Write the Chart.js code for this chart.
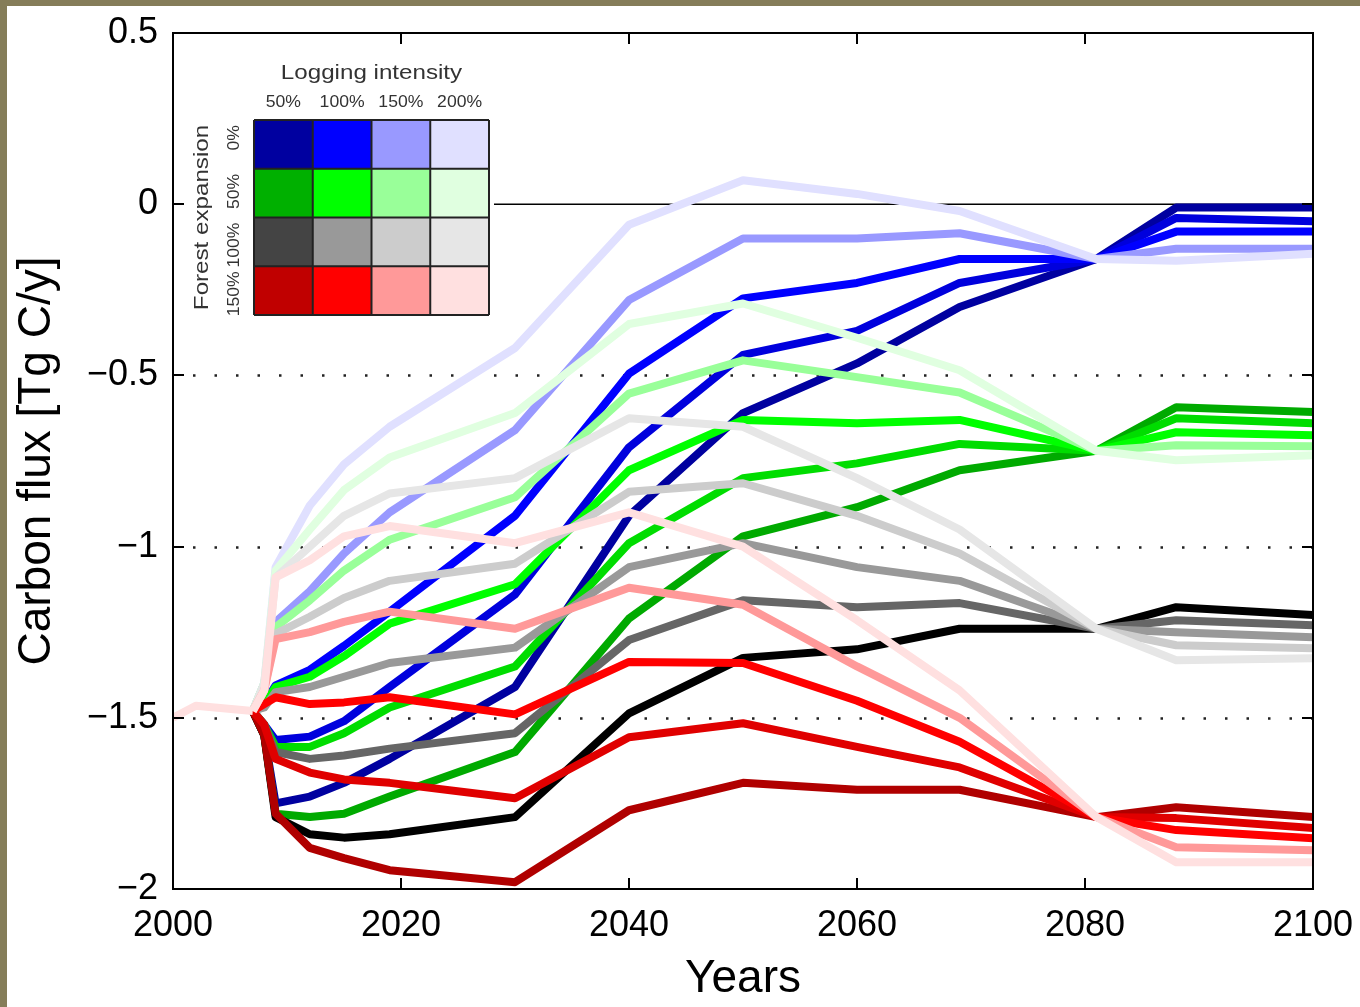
<!DOCTYPE html>
<html>
<head>
<meta charset="utf-8">
<script src="https://cdn.jsdelivr.net/npm/chart.js@4.4.1/dist/chart.umd.min.js"></script>
<style>
html, body { margin: 0; padding: 0; background: #857d59; }
#wrap { position: absolute; left: 7px; top: 6px; width: 1353px; height: 1001px; background: #fff; }
</style>
</head>
<body>
<div id="wrap"><canvas id="flux" width="1353" height="1001"></canvas></div>
<script>
// years shared by every scenario line (they all branch off at 2007)
const years = [2007, 2008, 2009, 2012, 2015, 2019, 2030, 2040, 2050, 2060, 2069, 2081, 2088, 2100];

// common history before the scenarios start
const histYears = [2000, 2002, 2007];
const histFlux = [-1.5, -1.465, -1.48];

// forest expansion 0% (blue), dark -> pale = low -> high logging
const blueDark   = [-1.48, -1.55, -1.75, -1.73, -1.69, -1.62, -1.41, -0.91, -0.61, -0.465, -0.30, -0.16, -0.01, -0.01];
const blueMid    = [-1.48, -1.52, -1.565, -1.555, -1.51, -1.41, -1.14, -0.71, -0.44, -0.37, -0.23, -0.16, -0.04, -0.05];
const blueBright = [-1.48, -1.46, -1.405, -1.36, -1.29, -1.19, -0.91, -0.495, -0.275, -0.23, -0.16, -0.16, -0.08, -0.08];
const blueLight  = [-1.48, -1.40, -1.22, -1.13, -1.02, -0.90, -0.66, -0.28, -0.10, -0.10, -0.085, -0.16, -0.13, -0.13];
const bluePale   = [-1.48, -1.40, -1.06, -0.88, -0.76, -0.65, -0.42, -0.06, 0.07, 0.03, -0.02, -0.16, -0.165, -0.145];

// forest expansion 50% (green)
const greenDark   = [-1.48, -1.55, -1.78, -1.79, -1.78, -1.73, -1.60, -1.21, -0.97, -0.885, -0.777, -0.72, -0.593, -0.607];
const greenMid    = [-1.48, -1.52, -1.585, -1.585, -1.545, -1.47, -1.35, -0.99, -0.80, -0.757, -0.70, -0.72, -0.625, -0.64];
const greenBright = [-1.48, -1.46, -1.41, -1.38, -1.32, -1.225, -1.11, -0.777, -0.63, -0.64, -0.63, -0.72, -0.666, -0.675];
const greenLight  = [-1.48, -1.40, -1.235, -1.157, -1.07, -0.98, -0.856, -0.553, -0.456, -0.505, -0.55, -0.72, -0.704, -0.707];
const greenPale   = [-1.48, -1.40, -1.07, -0.95, -0.835, -0.74, -0.61, -0.35, -0.29, -0.39, -0.485, -0.72, -0.748, -0.733];

// forest expansion 100% (grey)
const greyDark   = [-1.48, -1.55, -1.79, -1.84, -1.85, -1.84, -1.79, -1.487, -1.325, -1.30, -1.24, -1.24, -1.177, -1.20];
const greyMid    = [-1.48, -1.52, -1.60, -1.62, -1.61, -1.59, -1.545, -1.273, -1.157, -1.177, -1.165, -1.24, -1.215, -1.23];
const greyBright = [-1.48, -1.47, -1.425, -1.41, -1.38, -1.34, -1.295, -1.06, -0.99, -1.06, -1.10, -1.24, -1.25, -1.265];
const greyLight  = [-1.48, -1.42, -1.255, -1.205, -1.15, -1.10, -1.05, -0.84, -0.815, -0.91, -1.02, -1.24, -1.288, -1.297];
const greyPale   = [-1.48, -1.40, -1.09, -1.00, -0.91, -0.845, -0.80, -0.625, -0.65, -0.80, -0.95, -1.24, -1.332, -1.326];

// forest expansion 150% (red)
const redDark   = [-1.48, -1.55, -1.78, -1.88, -1.91, -1.945, -1.98, -1.77, -1.69, -1.71, -1.71, -1.79, -1.761, -1.79];
const redMid    = [-1.48, -1.52, -1.62, -1.66, -1.68, -1.69, -1.735, -1.557, -1.516, -1.585, -1.645, -1.79, -1.793, -1.822];
const redBright = [-1.48, -1.46, -1.44, -1.46, -1.455, -1.44, -1.49, -1.337, -1.34, -1.45, -1.57, -1.79, -1.828, -1.852];
const redLight  = [-1.48, -1.42, -1.27, -1.25, -1.22, -1.19, -1.24, -1.12, -1.17, -1.35, -1.50, -1.79, -1.878, -1.887];
const redPale   = [-1.48, -1.42, -1.09, -1.04, -0.97, -0.94, -0.99, -0.90, -1.00, -1.215, -1.42, -1.79, -1.922, -1.922];

const zeroX = [2000, 2100];
const zeroY = [0, 0];
const dottedAt = [-0.5, -1, -1.5];
const xTickMarks = [2020, 2040, 2060, 2080];
const yTickMarks = [0, -0.5, -1, -1.5];

// key matrix
const loggingLabels = ['50%', '100%', '150%', '200%'];
const expansionLabels = ['0%', '50%', '100%', '150%'];
const keyColors = [
  ['#0000a0', '#0000ff', '#9999ff', '#e0e0ff'],
  ['#00b000', '#00ff00', '#99ff99', '#e0ffe0'],
  ['#444444', '#999999', '#cccccc', '#e6e6e6'],
  ['#c00000', '#ff0000', '#ff9999', '#ffe0e0']
];

const FONT = '"Liberation Sans", Arial, Helvetica, sans-serif';

const series = [
  [blueDark, '#0000a0'], [blueMid, '#0000dd'], [blueBright, '#0000ff'], [blueLight, '#9999ff'], [bluePale, '#e0e0ff'],
  [greenDark, '#00aa00'], [greenMid, '#00dd00'], [greenBright, '#00ff00'], [greenLight, '#99ff99'], [greenPale, '#e0ffe0'],
  [greyDark, '#000000'], [greyMid, '#666666'], [greyBright, '#999999'], [greyLight, '#cccccc'], [greyPale, '#e6e6e6'],
  [redDark, '#b00000'], [redMid, '#e00000'], [redBright, '#ff0000'], [redLight, '#ff9999'], [redPale, '#ffe0e0']
];

function pts(xs, ys) {
  return xs.map((x, i) => ({x: x, y: ys[i]}));
}

const datasets = [];
datasets.push({data: pts(zeroX, zeroY), borderColor: '#000', borderWidth: 1.5});
series.forEach(s => {
  datasets.push({data: pts(years, s[0]), borderColor: s[1]});
});
datasets.push({data: pts(histYears, histFlux), borderColor: '#ffe0e0'});
// later datasets on top, like the original plot order
datasets.forEach((d, i) => { d.order = datasets.length - i; });

function fmtTick(v) {
  if (v === 0) return '0';
  return (v < 0 ? '\u2212' : '') + String(Math.abs(v));
}

function stretchText(ctx, text, x, y, sx) {
  ctx.save();
  ctx.translate(x, y);
  ctx.scale(sx, 1);
  ctx.fillText(text, 0, 0);
  ctx.restore();
}

// keep the plot box where the layout padding puts it
function noEdgePadding(s) {
  s.paddingLeft = 0;
  s.paddingRight = 0;
  s.paddingTop = 0;
  s.paddingBottom = 0;
}

const framePlugin = {
  id: 'frame',
  beforeDatasetsDraw(chart) {
    const {ctx, chartArea: a, scales: {y}} = chart;
    ctx.save();
    ctx.strokeStyle = '#222';
    ctx.lineWidth = 2.5;
    ctx.setLineDash([2.5, 19]);
    dottedAt.forEach(v => {
      const py = Math.round(y.getPixelForValue(v)) + 0.5;
      ctx.beginPath();
      ctx.moveTo(a.left + 20, py);
      ctx.lineTo(a.right, py);
      ctx.stroke();
    });
    ctx.restore();
  },
  afterDatasetsDraw(chart) {
    const {ctx, chartArea: a, scales: {x, y}} = chart;
    ctx.save();

    // key panel sits on a white patch over the zero line
    ctx.fillStyle = '#fff';
    ctx.fillRect(a.left + 2, a.top + 2, 319, 290);

    const kl = a.left + 81, kt = a.top + 87, cw = 58.75, ch = 48.75;
    keyColors.forEach((row, r) => {
      row.forEach((c, k) => {
        ctx.fillStyle = c;
        ctx.fillRect(kl + k * cw, kt + r * ch, cw, ch);
      });
    });
    ctx.strokeStyle = '#222';
    ctx.lineWidth = 2;
    for (let k = 0; k <= 4; k++) {
      ctx.beginPath();
      ctx.moveTo(kl + k * cw, kt);
      ctx.lineTo(kl + k * cw, kt + 4 * ch);
      ctx.stroke();
      ctx.beginPath();
      ctx.moveTo(kl, kt + k * ch);
      ctx.lineTo(kl + 4 * cw, kt + k * ch);
      ctx.stroke();
    }

    ctx.fillStyle = '#333';
    ctx.textAlign = 'center';
    ctx.textBaseline = 'middle';
    ctx.font = '21px ' + FONT;
    stretchText(ctx, 'Logging intensity', kl + 2 * cw, a.top + 40, 1.15);
    ctx.font = '16px ' + FONT;
    loggingLabels.forEach((t, k) => {
      stretchText(ctx, t, kl + (k + 0.5) * cw, a.top + 70, 1.1);
    });

    // rotated row labels
    ctx.font = '16px ' + FONT;
    ctx.textAlign = 'right';
    expansionLabels.forEach((t, r) => {
      ctx.save();
      ctx.translate(a.left + 62, kt + r * ch + 5);
      ctx.rotate(-Math.PI / 2);
      ctx.scale(1.1, 1);
      ctx.fillText(t, 0, 0);
      ctx.restore();
    });
    ctx.font = '21px ' + FONT;
    ctx.textAlign = 'center';
    ctx.save();
    ctx.translate(a.left + 29, kt + 2 * ch);
    ctx.rotate(-Math.PI / 2);
    ctx.scale(1.15, 1);
    ctx.fillText('Forest expansion', 0, 0);
    ctx.restore();

    // axes box with inward ticks
    ctx.strokeStyle = '#000';
    ctx.lineWidth = 2;
    ctx.strokeRect(a.left, a.top, a.right - a.left, a.bottom - a.top);
    ctx.beginPath();
    xTickMarks.forEach(v => {
      const px = Math.round(x.getPixelForValue(v));
      ctx.moveTo(px, a.bottom);
      ctx.lineTo(px, a.bottom - 11);
      ctx.moveTo(px, a.top);
      ctx.lineTo(px, a.top + 11);
    });
    yTickMarks.forEach(v => {
      const py = Math.round(y.getPixelForValue(v));
      ctx.moveTo(a.left, py);
      ctx.lineTo(a.left + 11, py);
      ctx.moveTo(a.right, py);
      ctx.lineTo(a.right - 11, py);
    });
    ctx.stroke();
    ctx.restore();
  }
};

new Chart(document.getElementById('flux'), {
  type: 'line',
  data: {datasets: datasets},
  options: {
    responsive: false,
    animation: false,
    layout: {padding: {top: 27, right: 47, left: 0, bottom: 0}},
    plugins: {legend: {display: false}, tooltip: {enabled: false}},
    elements: {
      point: {radius: 0},
      line: {tension: 0, borderWidth: 8, borderJoinStyle: 'round', borderCapStyle: 'butt', fill: false}
    },
    scales: {
      x: {
        type: 'linear', min: 2000, max: 2100,
        grid: {display: false, drawTicks: false, tickLength: 0},
        border: {display: false},
        ticks: {stepSize: 20, color: '#000', padding: 15, maxRotation: 0, autoSkip: false,
                font: {family: FONT, size: 36}, callback: v => String(v)},
        title: {display: true, text: 'Years', color: '#000', padding: {top: 0, bottom: 0},
                font: {family: FONT, size: 46}},
        afterFit(s) { s.height = 118; noEdgePadding(s); }
      },
      y: {
        type: 'linear', min: -2, max: 0.5,
        grid: {display: false, drawTicks: false, tickLength: 0},
        border: {display: false},
        ticks: {stepSize: 0.5, color: '#000', padding: 15, autoSkip: false,
                font: {family: FONT, size: 36}, callback: v => fmtTick(v)},
        title: {display: true, text: 'Carbon flux [Tg C/y]', color: '#000', padding: {top: 3, bottom: 0},
                font: {family: FONT, size: 46}},
        afterFit(s) { s.width = 166; noEdgePadding(s); }
      }
    }
  },
  plugins: [framePlugin]
});
</script>
</body>
</html>
